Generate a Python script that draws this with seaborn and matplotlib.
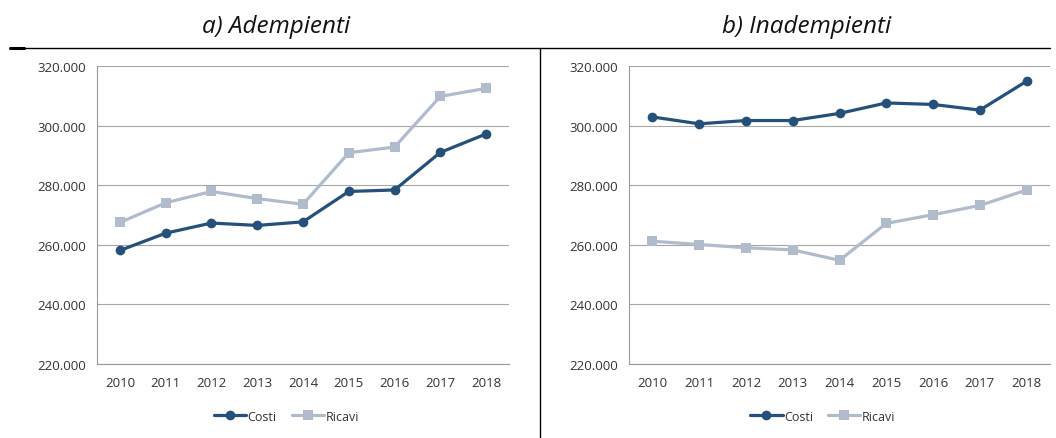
import matplotlib.pyplot as plt
import matplotlib.lines as mlines
import numpy as np
import pandas as pd
import seaborn as sns

YEARS = [2010, 2011, 2012, 2013, 2014, 2015, 2016, 2017, 2018]

# a) Adempienti (migliaia, letti dal grafico)
ADEMP_COSTI = [258.1, 263.9, 267.3, 266.5, 267.7, 277.9, 278.4, 291.0, 297.2]
ADEMP_RICAVI = [267.5, 274.1, 277.9, 275.5, 273.6, 290.9, 292.8, 309.8, 312.5]

# b) Inadempienti
INADEMP_COSTI = [302.9, 300.6, 301.7, 301.7, 304.1, 307.6, 307.1, 305.2, 314.9]
INADEMP_RICAVI = [261.2, 260.1, 259.0, 258.3, 254.8, 267.2, 270.1, 273.2, 278.4]

TITLES = ["a) Adempienti", "b) Inadempienti"]
COLORS = {"Costi": "#24507a", "Ricavi": "#b0bccc"}
MARKERS = {"Costi": "o", "Ricavi": "s"}


def to_long(costi, ricavi):
    df = pd.DataFrame({"anno": YEARS, "Costi": costi, "Ricavi": ricavi})
    return df.melt(id_vars="anno", var_name="serie", value_name="valore")


sns.set_theme(style="white")
plt.rcParams["font.family"] = ["Open Sans", "DejaVu Sans"]

fig = plt.figure(figsize=(10.56, 4.39), dpi=100)
axes = [fig.add_axes([97 / 1056, 1 - 365 / 439, 412 / 1056, 298 / 439]),
        fig.add_axes([629 / 1056, 1 - 365 / 439, 421 / 1056, 298 / 439])]

panels = [to_long(ADEMP_COSTI, ADEMP_RICAVI), to_long(INADEMP_COSTI, INADEMP_RICAVI)]

for ax, df, title, cx in zip(axes, panels, TITLES, [276, 807]):
    sns.lineplot(data=df, x="anno", y="valore", hue="serie", style="serie",
                 palette=COLORS, markers=MARKERS, dashes=False, linewidth=2.3,
                 markersize=7, markeredgewidth=0, ax=ax, legend=False)
    ax.set_xlim(2009.5, 2018.5)
    ax.set_ylim(220, 320)
    ax.set_yticks(np.arange(220, 321, 20))
    ax.set_yticklabels([f"{v:d}.000" for v in range(220, 321, 20)])
    ax.set_xticks(YEARS)
    ax.set_xticks(np.arange(2009.5, 2019, 1), minor=True)
    ax.tick_params(axis="x", which="major", length=0, pad=9, labelsize=9.5, colors="#333333")
    ax.tick_params(axis="x", which="minor", length=5, color="#999999", width=0.8)
    ax.tick_params(axis="y", length=5, width=0.8, labelsize=9.5, labelcolor="#333333",
                   color="#999999", pad=3)
    ax.grid(axis="y", color="#a6a6a6", linewidth=0.8)
    ax.set_axisbelow(True)
    for side in ["top", "right"]:
        ax.spines[side].set_visible(False)
    for side in ["left", "bottom"]:
        ax.spines[side].set_color("#999999")
        ax.spines[side].set_linewidth(0.8)
    ax.set_xlabel("")
    ax.set_ylabel("")

    handles = [mlines.Line2D([], [], color=COLORS[s], marker=MARKERS[s], linewidth=2.3,
                             markersize=7, markeredgewidth=0, label=s)
               for s in ["Costi", "Ricavi"]]
    ax.legend(handles=handles, loc="center", bbox_to_anchor=(0.46, -0.175),
              ncol=2, frameon=False, fontsize=9, handlelength=2.6,
              handletextpad=0.1, columnspacing=1.2, labelcolor="#333333")

    fig.text(cx / 1056, 1 - 27 / 439, title, ha="center", va="center",
             fontsize=17.5, style="italic", color="#111111")

# bordi della tabella
fig.add_artist(mlines.Line2D([10 / 1056, 1050 / 1056], [1 - 49 / 439] * 2,
                             color="black", linewidth=1))
fig.add_artist(mlines.Line2D([10 / 1056, 24 / 1056], [1 - 49 / 439] * 2,
                             color="black", linewidth=2.2))
fig.add_artist(mlines.Line2D([540 / 1056] * 2, [0, 1 - 49 / 439],
                             color="black", linewidth=1))

fig.savefig("out.png", dpi=100)
